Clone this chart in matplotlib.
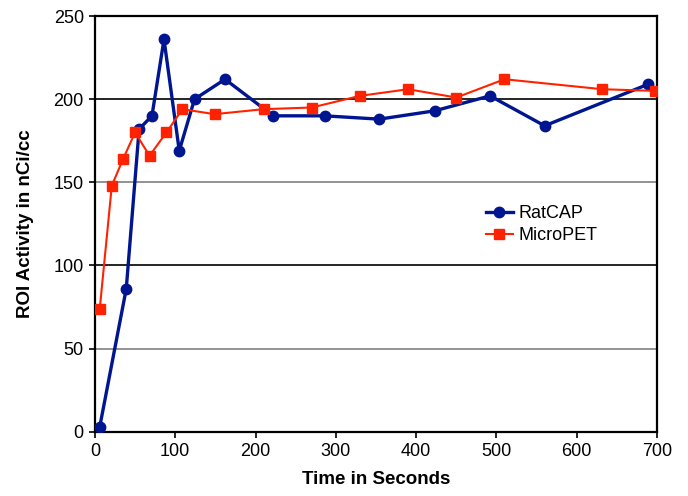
import matplotlib
matplotlib.use("Agg")
import matplotlib.pyplot as plt

# RatCAP series
ratcap_t = [6, 39, 55, 71, 86, 105, 124, 162, 222, 286, 354, 423, 492, 560, 689]
ratcap_y = [3, 86, 182, 190, 236, 169, 200, 212, 190, 190, 188, 193, 202, 184, 209]

# MicroPET series
micropet_t = [6, 21, 35, 50, 68, 89, 109, 149, 210, 270, 330, 390, 450, 510, 632, 697]
micropet_y = [74, 148, 164, 180, 166, 180, 194, 191, 194, 195, 202, 206, 201, 212, 206, 205]

xticks = [0, 100, 200, 300, 400, 500, 600, 700]
yticks = [0, 50, 100, 150, 200, 250]

plt.rcParams['font.family'] = ['Liberation Sans', 'DejaVu Sans']

fig = plt.figure(figsize=(6.88, 4.96), dpi=100)
ax = fig.add_axes([0.138, 0.1296, 0.817, 0.838])

ax.plot(ratcap_t, ratcap_y, color='#001590', lw=2.4, marker='o', ms=7.5,
        label='RatCAP', zorder=3)
ax.plot(micropet_t, micropet_y, color='#ff2200', lw=1.5, marker='s', ms=7,
        label='MicroPET', zorder=4)

ax.set_xlim(0, 700)
ax.set_ylim(0, 250)
ax.set_xticks(xticks)
ax.set_yticks(yticks)
ax.tick_params(labelsize=13, length=4, width=1.2, direction='out', pad=4)

ax.grid(axis='y', color='#808080', lw=1.2)
for tick, gl in zip(yticks, ax.get_ygridlines()):
    if tick in (100, 200):
        gl.set_color('#000000')
ax.set_axisbelow(True)

for s in ax.spines.values():
    s.set_linewidth(1.6)
    s.set_color('black')

ax.set_xlabel('Time in Seconds', fontsize=13.5, fontweight='bold', labelpad=8)
ax.set_ylabel('ROI Activity in nCi/cc', fontsize=13.5, fontweight='bold', labelpad=14)

ax.legend(loc='upper left', bbox_to_anchor=(0.682, 0.563), frameon=False,
          fontsize=13, handlelength=1.5, handletextpad=0.35, labelspacing=0.3,
          borderaxespad=0)

fig.savefig('out.png', dpi=100)
